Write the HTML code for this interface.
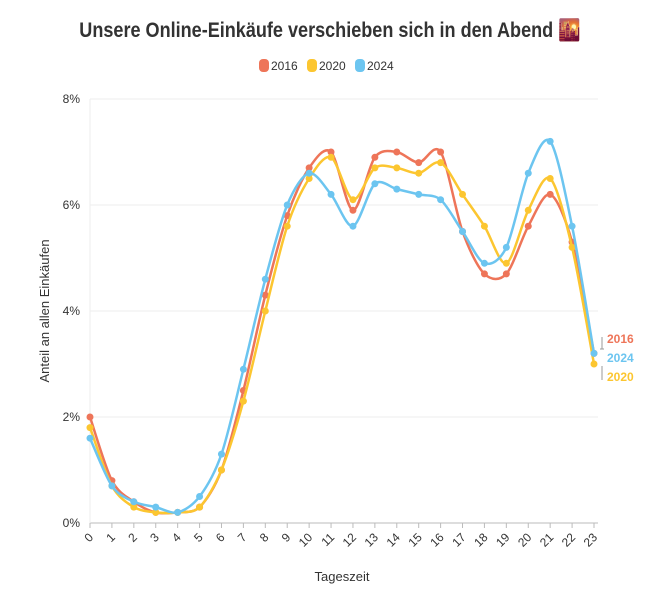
<!DOCTYPE html>
<html><head><meta charset="utf-8"><style>
body{margin:0;background:#fff;width:659px;height:601px;overflow:hidden;font-family:"Liberation Sans",sans-serif;}
</style></head><body>
<svg id="s" width="659" height="601" xmlns="http://www.w3.org/2000/svg" font-family="Liberation Sans, sans-serif">
<text x="330" y="37" text-anchor="middle" font-size="21" font-weight="bold" fill="#333" transform="translate(330,0) scale(0.86,1) translate(-330,0)">Unsere Online-Einkäufe verschieben sich in den Abend 🌇</text>
<g font-size="12" fill="#333">
<rect x="259" y="59" width="10" height="13" rx="4" fill="#ee7559"/><text x="271" y="70">2016</text>
<rect x="307" y="59" width="10" height="13" rx="4" fill="#fcc630"/><text x="319" y="70">2020</text>
<rect x="355" y="59" width="10" height="13" rx="4" fill="#6cc5f0"/><text x="367" y="70">2024</text>
</g>
<g id="grid"></g>
<text transform="translate(49,311) rotate(-90)" text-anchor="middle" font-size="13" fill="#333">Anteil an allen Einkäufen</text>
<text x="342" y="581" text-anchor="middle" font-size="13" fill="#333">Tageszeit</text>
<g id="series"></g>
<g font-size="12" font-weight="bold">
<text x="607" y="343" fill="#ee7559">2016</text>
<text x="607" y="362" fill="#6cc5f0">2024</text>
<text x="607" y="381" fill="#fcc630">2020</text>
<path d="M602,337 v12 M600,349 h4 M602,366 v14" stroke="#999" fill="none"/>
</g>
</svg>
<script>
var X0=90,DX=(594-90)/23,Y0=523,DY=53;
function px(i){return X0+i*DX} function py(v){return Y0-v*DY}
var g=document.getElementById('grid'),h='';
for(var k=0;k<=4;k++){var y=py(k*2);h+='<line x1="90" x2="598" y1="'+y+'" y2="'+y+'" stroke="'+(k==0?'#bbb':'#eee')+'"/>';h+='<text x="80" y="'+(y+4)+'" text-anchor="end" font-size="12" fill="#333">'+(k*2)+'%</text>';}
h+='<line x1="90" x2="90" y1="99" y2="523" stroke="#eee"/>';
for(var i=0;i<24;i++){var x=px(i);h+='<line x1="'+x+'" x2="'+x+'" y1="523" y2="528" stroke="#bbb"/>';h+='<text transform="translate('+(x+4)+',538) rotate(-45)" text-anchor="end" font-size="12" fill="#333">'+i+'</text>';}
g.innerHTML=h;
var D=[
['#ee7559',[2.0,0.8,0.4,0.2,0.2,0.3,1.0,2.5,4.3,5.8,6.7,7.0,5.9,6.9,7.0,6.8,7.0,5.5,4.7,4.7,5.6,6.2,5.3,3.2]],
['#fcc630',[1.8,0.7,0.3,0.2,0.2,0.3,1.0,2.3,4.0,5.6,6.5,6.9,6.1,6.7,6.7,6.6,6.8,6.2,5.6,4.9,5.9,6.5,5.2,3.0]],
['#6cc5f0',[1.6,0.7,0.4,0.3,0.2,0.5,1.3,2.9,4.6,6.0,6.6,6.2,5.6,6.4,6.3,6.2,6.1,5.5,4.9,5.2,6.6,7.2,5.6,3.2]]];
var s='';
D.forEach(function(d){var v=d[1],p=v.map(function(a,i){return [px(i),py(a)]});
var path='M'+p[0][0]+','+p[0][1];
for(var i=0;i<p.length-1;i++){var a=p[i-1]||p[i],b=p[i],c=p[i+1],e=p[i+2]||c,t=0.15;
path+=' C'+(b[0]+(c[0]-a[0])*t)+','+(b[1]+(c[1]-a[1])*t)+' '+(c[0]-(e[0]-b[0])*t)+','+(c[1]-(e[1]-b[1])*t)+' '+c[0]+','+c[1];}
s+='<path d="'+path+'" fill="none" stroke="'+d[0]+'" stroke-width="2.5"/>';
p.forEach(function(q){s+='<circle cx="'+q[0]+'" cy="'+q[1]+'" r="3.5" fill="'+d[0]+'"/>'});});
document.getElementById('series').innerHTML=s;
</script>
</body></html>
